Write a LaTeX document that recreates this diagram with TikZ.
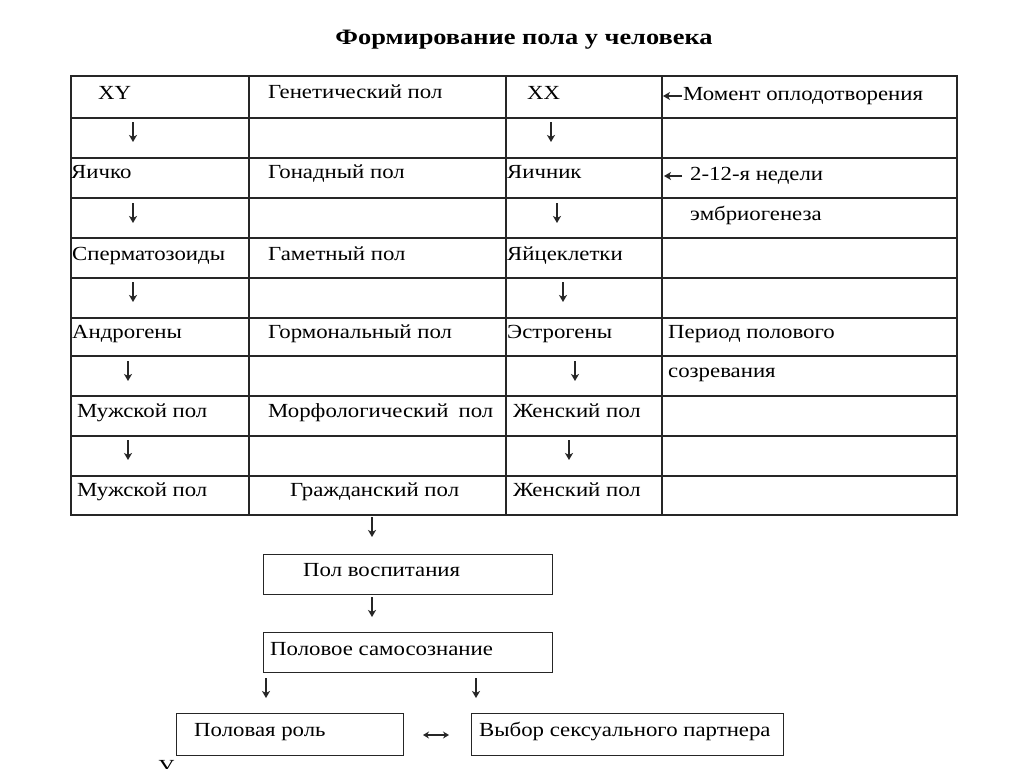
\documentclass[tikz,border=0pt]{standalone}
\usepackage{fontspec}
\usetikzlibrary{arrows.meta}
\setmainfont{Liberation Serif}[FakeStretch=1.14]
\newfontfamily\titlefont{Liberation Serif}[FakeStretch=1.2]
\begin{document}
\begin{tikzpicture}[x=1pt,y=-1pt,
  grid/.style={line width=1.2pt,draw=black!85},
  txt/.style={anchor=mid west,inner sep=0pt,yshift=-2.5pt,font=\rmfamily\fontsize{20}{24}\selectfont},
  dn/.style={line width=1.1pt,draw=black!85,-{Stealth[length=7pt,width=8pt,inset=2pt]}},
  box/.style={draw=black!85,line width=1.2pt,anchor=north west,inner sep=0pt},
  ttl/.style={anchor=center,inner sep=0pt,font=\titlefont\bfseries\fontsize{22}{26}\selectfont}]
\useasboundingbox[fill=white] (0,0) rectangle (1024,768);
% title
\node[ttl] (title) at (524,40) {Формирование пола у человека};
% table grid
\draw[grid] (71,76) rectangle (957,515);
\foreach \c in {249,506,662} \draw[grid] (\c,76) -- (\c,515);
\foreach \r in {118,158,198,238,278,318,356,396,436,476} \draw[grid] (71,\r) -- (957,\r);
% row 1
\node[txt] (xy) at (98,95) {XY};
\node[txt] (gen) at (268,94) {Генетический пол};
\node[txt] (xx) at (527,95) {XX};
\coordinate (m0) at (682,96); \coordinate (m1) at (663,96);
\draw[dn] (m0) -- (m1);
\node[txt] (mom) at (683,96) {Момент оплодотворения};
% arrows in the table
\foreach \n/\x/\y in {a1/133/132,b1/551/132,a2/133/213,b2/557/213,a3/133/292,b3/563/292,a4/128/371,b4/575/371,a5/128/450,b5/569/450}{
  \coordinate (\n s) at (\x,\y-10); \coordinate (\n e) at (\x,\y+10);
  \draw[dn] (\n s) -- (\n e);}
% row 3
\node[txt] (yaichko) at (71,174) {Яичко};
\node[txt] (gon) at (268,174) {Гонадный пол};
\node[txt] (yaichnik) at (507,174) {Яичник};
\coordinate (n0) at (682,176); \coordinate (n1) at (664,176);
\draw[dn] (n0) -- (n1);
\node[txt] (ned) at (690,176) {2-12-я недели};
% row 4
\node[txt] (emb) at (690,216) {эмбриогенеза};
% row 5
\node[txt] (sperm) at (72,256) {Сперматозоиды};
\node[txt] (gam) at (268,256) {Гаметный пол};
\node[txt] (yaic) at (507,256) {Яйцеклетки};
% row 7
\node[txt] (andr) at (72,334) {Андрогены};
\node[txt] (gorm) at (268,334) {Гормональный пол};
\node[txt] (estr) at (507,334) {Эстрогены};
\node[txt] (per) at (668,334) {Период полового};
% row 8
\node[txt] (sozr) at (668,373) {созревания};
% row 9
\node[txt] (muzh1) at (77,413) {Мужской пол};
\node[txt] (morf) at (268,413) {Морфологический\hspace{10pt}пол};
\node[txt] (zhen1) at (513,413) {Женский пол};
% row 11
\node[txt] (muzh2) at (77,492) {Мужской пол};
\node[txt] (grazh) at (290,492) {Гражданский пол};
\node[txt] (zhen2) at (513,492) {Женский пол};
% lower flow
\coordinate (c1s) at (372,517); \coordinate (c1e) at (372,537);
\draw[dn] (c1s) -- (c1e);
\node[box,minimum width=289pt,minimum height=40pt] (vosp) at (263,554) {};
\node[txt] (vospt) at (303,572) {Пол воспитания};
\coordinate (c2s) at (372,597); \coordinate (c2e) at (372,617);
\draw[dn] (c2s) -- (c2e);
\node[box,minimum width=289pt,minimum height=40pt] (samo) at (263,632) {};
\node[txt] (samot) at (270,651) {Половое самосознание};
\coordinate (c3s) at (266,678); \coordinate (c3e) at (266,698);
\draw[dn] (c3s) -- (c3e);
\coordinate (c4s) at (476,678); \coordinate (c4e) at (476,698);
\draw[dn] (c4s) -- (c4e);
\node[box,minimum width=227pt,minimum height=42pt] (rol) at (176,713) {};
\node[txt] (rolt) at (194,732) {Половая роль};
\node[box,minimum width=312pt,minimum height=42pt] (vyb) at (471,713) {};
\node[txt] (vybt) at (479,732) {Выбор сексуального партнера};
\coordinate (d0) at (423,735); \coordinate (d1) at (449,735);
\draw[line width=1.1pt,draw=black!85,{Stealth[length=6pt,width=7pt,inset=2pt]}-{Stealth[length=6pt,width=7pt,inset=2pt]}] (d0) -- (d1);
\node[anchor=north west,inner sep=0pt,font=\rmfamily\fontsize{20}{24}\selectfont] (cut) at (158,760) {У};
\end{tikzpicture}
\end{document}
